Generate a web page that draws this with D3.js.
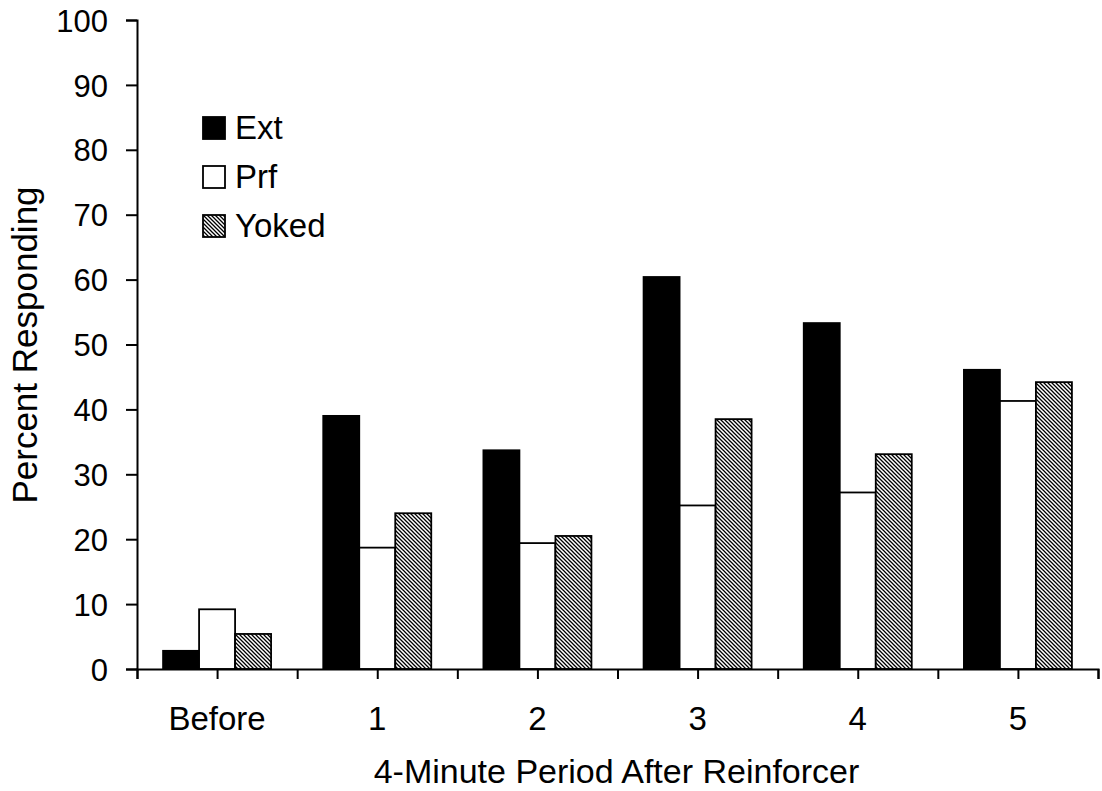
<html>
<head>
<script src="https://d3js.org/d3.v7.min.js"></script>
<style>
  body { margin: 0; background: #fff; }
  text { font-family: Arial, "Liberation Sans", sans-serif; fill: #000; }
</style>
</head>
<body>
<div id="chart"></div>
<script>
// data
var periods = ["Before", "1", "2", "3", "4", "5"];
var groups = ["Ext", "Prf", "Yoked"];
var ext   = [2.8, 39.0, 33.7, 60.4, 53.3, 46.1];
var prf   = [9.2, 18.7, 19.4, 25.2, 27.2, 41.3];
var yoked = [5.4, 24.0, 20.5, 38.5, 33.1, 44.2];
var yTicks = [0, 10, 20, 30, 40, 50, 60, 70, 80, 90, 100];

var W = 1102, H = 791;
var margin = {top: 20, right: 4, bottom: 122, left: 137};
var width = W - margin.left - margin.right,
    height = H - margin.top - margin.bottom;

var svg = d3.select("#chart").append("svg")
    .attr("width", W).attr("height", H);

// hatch for Yoked
var defs = svg.append("defs");
var pat = defs.append("pattern")
    .attr("id", "hatch")
    .attr("patternUnits", "userSpaceOnUse")
    .attr("width", 4).attr("height", 4);
pat.append("rect").attr("width", 4).attr("height", 4).attr("fill", "#fff");
pat.append("path")
    .attr("d", "M-1,-1 L5,5 M-1,3 L1,5 M3,-1 L5,1")
    .attr("stroke", "#000").attr("stroke-width", 1.3);

var fills = {Ext: "#000", Prf: "#fff", Yoked: "url(#hatch)"};
var values = {Ext: ext, Prf: prf, Yoked: yoked};

var g = svg.append("g")
    .attr("transform", "translate(" + margin.left + "," + margin.top + ")");

var x0 = d3.scaleBand().domain(periods).range([0, width]).padding(0);
var bw = 36;
var x1 = d3.scaleBand().domain(groups)
    .range([(x0.bandwidth() - 3 * bw) / 2, (x0.bandwidth() + 3 * bw) / 2]).padding(0);
var y = d3.scaleLinear().domain([0, 100]).range([height, 0]);

// bars
var data = [];
periods.forEach(function(p, i) {
  groups.forEach(function(k) { data.push({period: p, key: k, value: values[k][i]}); });
});
g.selectAll("rect.bar").data(data).enter().append("rect")
    .attr("class", "bar")
    .attr("x", function(d) { return x0(d.period) + x1(d.key); })
    .attr("y", function(d) { return y(d.value); })
    .attr("width", x1.bandwidth())
    .attr("height", function(d) { return height - y(d.value); })
    .attr("fill", function(d) { return fills[d.key]; })
    .attr("stroke", "#000")
    .attr("stroke-width", 1.8);

// y axis
var yAxis = g.append("g")
    .call(d3.axisLeft(y).tickValues(yTicks).tickSize(11).tickPadding(18));
yAxis.selectAll("text").style("font-size", "31px").attr("font-family", null).attr("dy", "0.36em");

// x axis: ticks at group edges and centres, labels at centres
var xLin = d3.scaleLinear().domain([0, periods.length]).range([0, width]);
var xAxis = g.append("g")
    .attr("transform", "translate(0," + height + ")")
    .call(d3.axisBottom(xLin).tickValues(d3.range(0, periods.length + 0.5, 0.5))
      .tickSize(10).tickFormat(""));
g.append("g").selectAll("text").data(periods).enter().append("text")
    .attr("x", function(d) { return x0(d) + x0.bandwidth() / 2; })
    .attr("y", height + 61)
    .attr("text-anchor", "middle")
    .style("font-size", "33px")
    .text(function(d) { return d; });

svg.selectAll(".domain, .tick line").attr("stroke", "#000").attr("stroke-width", 2);

// axis titles
svg.append("text")
    .attr("x", margin.left + width / 2 - 1)
    .attr("y", 783)
    .attr("text-anchor", "middle")
    .style("font-size", "34px")
    .text("4-Minute Period After Reinforcer");
svg.append("text")
    .attr("transform", "translate(37,345) rotate(-90)")
    .attr("text-anchor", "middle")
    .style("font-size", "35px")
    .text("Percent Responding");

// legend
var leg = svg.append("g").attr("transform", "translate(203,117)");
var li = leg.selectAll("g").data(groups).enter().append("g")
    .attr("transform", function(d, i) { return "translate(0," + i * 49 + ")"; });
li.append("rect")
    .attr("width", 22).attr("height", 22)
    .attr("fill", function(d) { return fills[d]; })
    .attr("stroke", "#000").attr("stroke-width", 1.8);
li.append("text")
    .attr("x", 32).attr("y", 22)
    .style("font-size", "33px")
    .text(function(d) { return d; });
</script>
</body>
</html>
